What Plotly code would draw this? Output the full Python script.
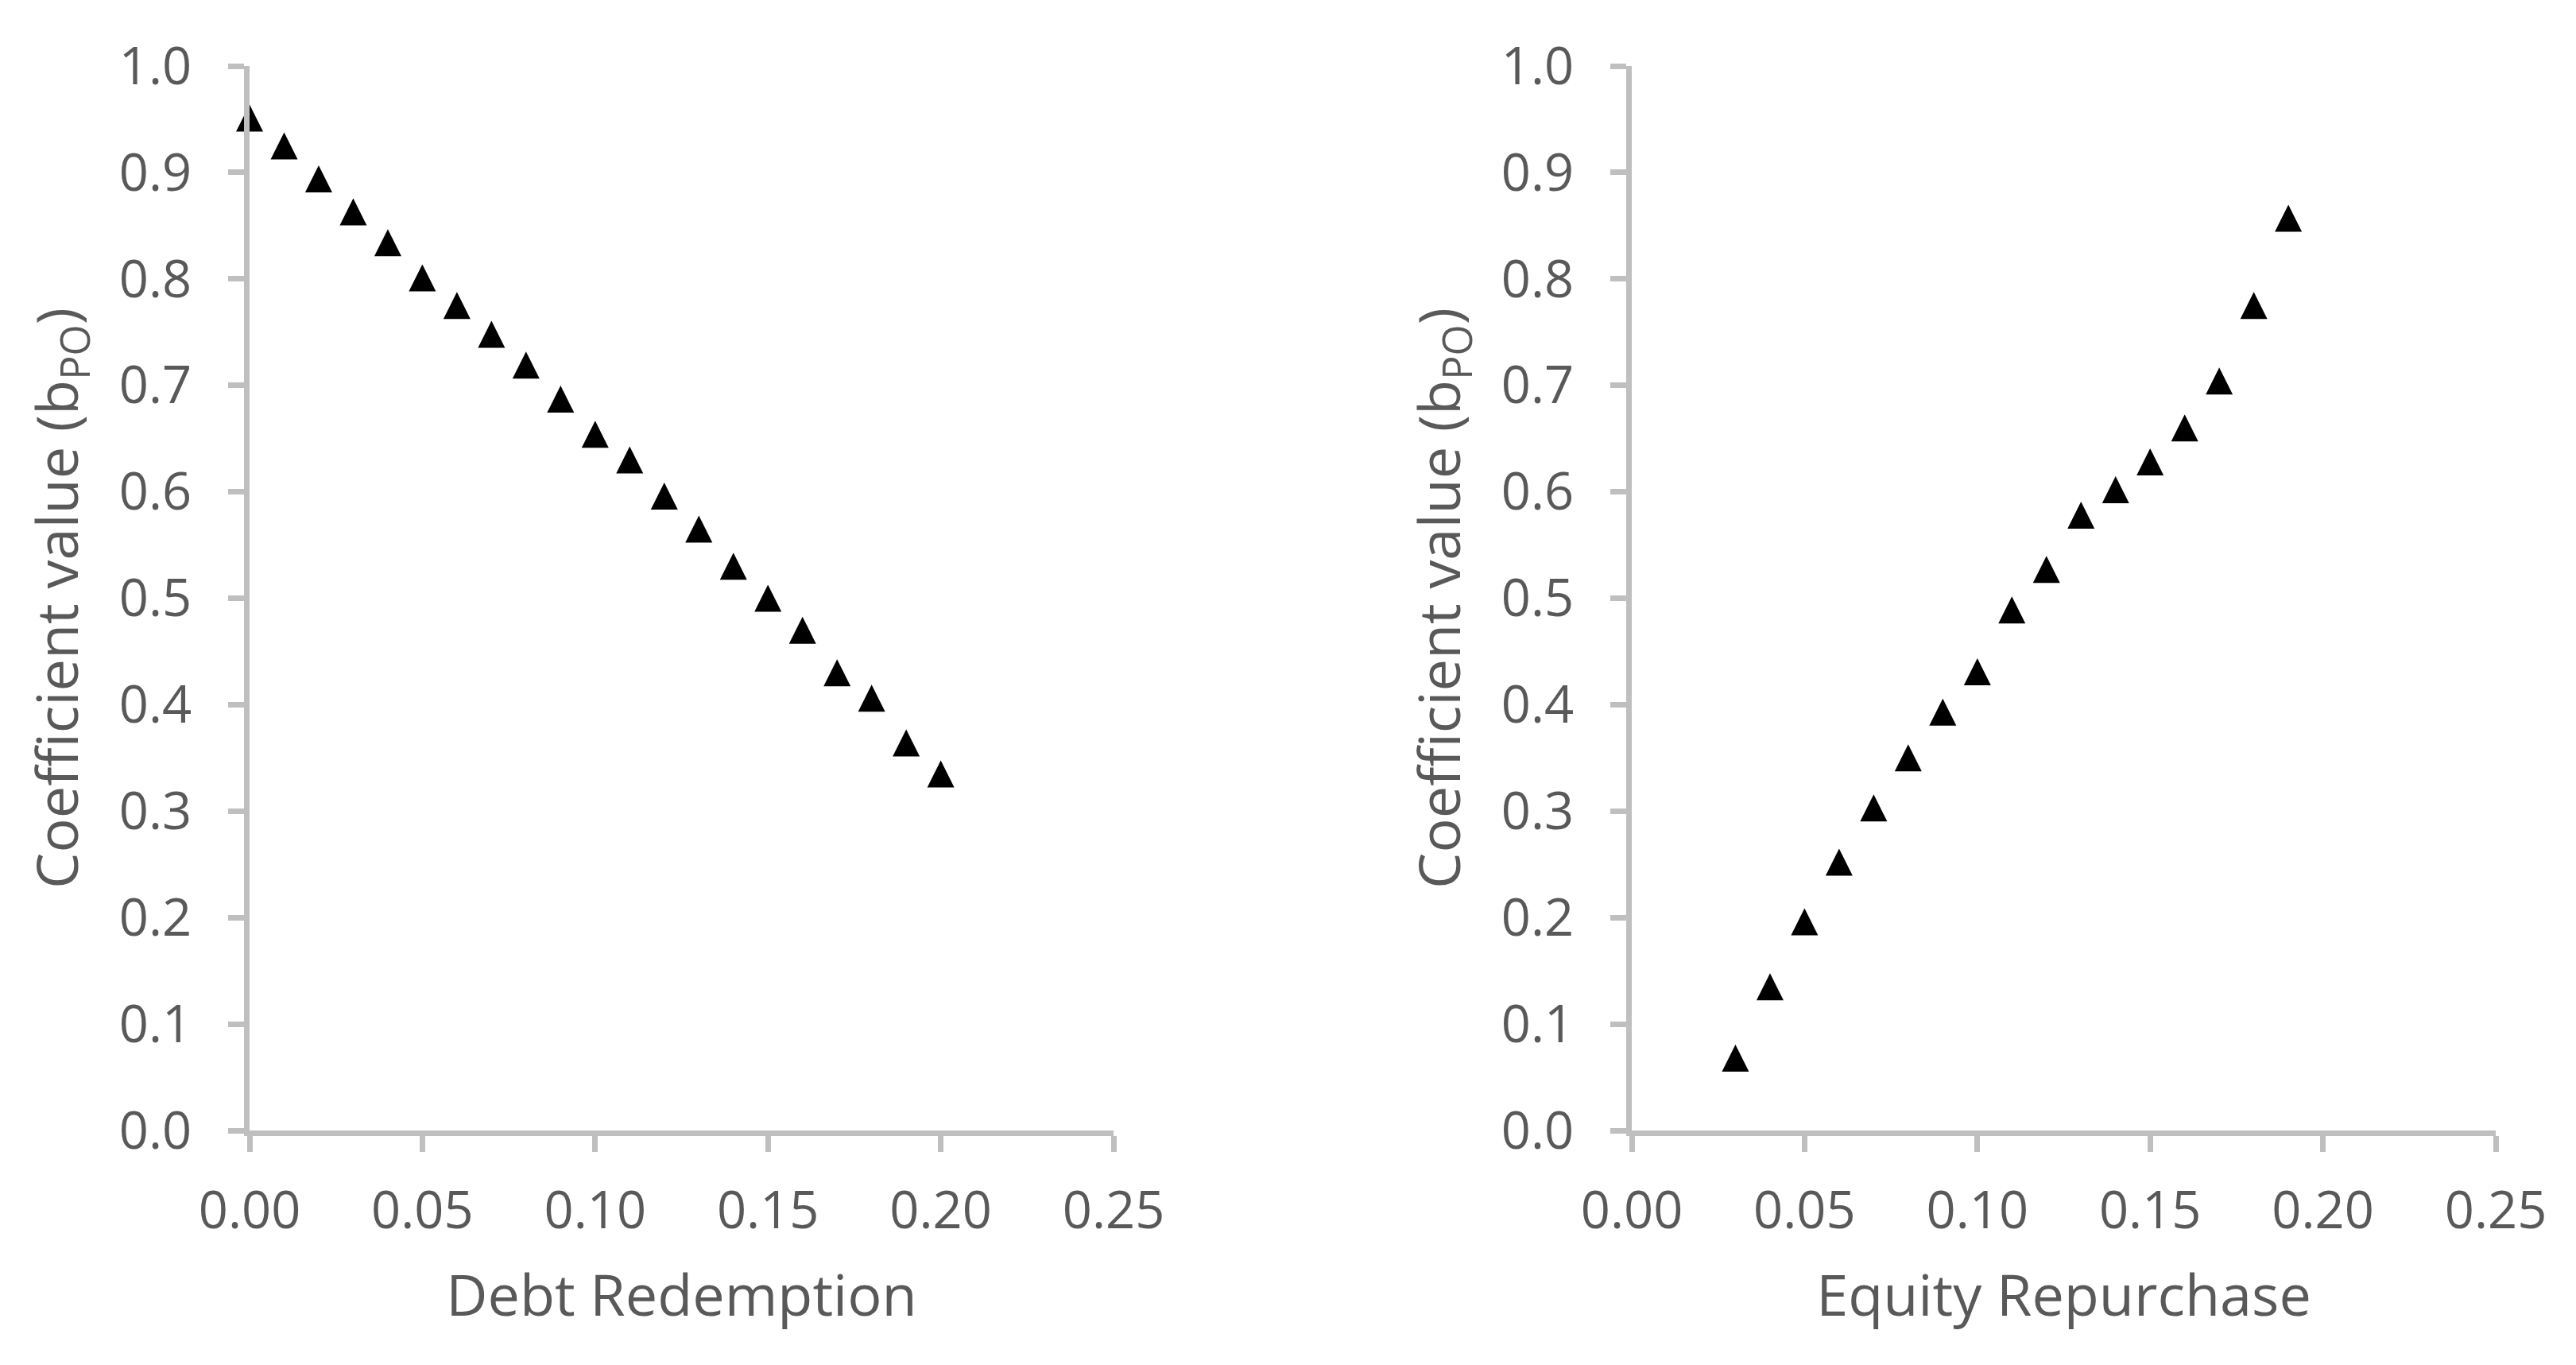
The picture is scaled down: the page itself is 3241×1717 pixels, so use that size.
import plotly.graph_objects as go

# ---- data ----
debt_x = [0.00, 0.01, 0.02, 0.03, 0.04, 0.05, 0.06, 0.07, 0.08, 0.09, 0.10,
          0.11, 0.12, 0.13, 0.14, 0.15, 0.16, 0.17, 0.18, 0.19, 0.20]
debt_y = [0.951, 0.925, 0.894, 0.863, 0.834, 0.801, 0.775, 0.748, 0.719, 0.687, 0.654,
          0.630, 0.596, 0.565, 0.530, 0.500, 0.470, 0.430, 0.406, 0.364, 0.335]

equity_x = [0.03, 0.04, 0.05, 0.06, 0.07, 0.08, 0.09, 0.10, 0.11, 0.12,
            0.13, 0.14, 0.15, 0.16, 0.17, 0.18, 0.19]
equity_y = [0.068, 0.135, 0.196, 0.252, 0.303, 0.350, 0.393, 0.431, 0.489, 0.527,
            0.578, 0.602, 0.628, 0.660, 0.704, 0.775, 0.857]

x_ticks = [0.00, 0.05, 0.10, 0.15, 0.20, 0.25]
x_labels = ["0.00", "0.05", "0.10", "0.15", "0.20", "0.25"]
y_ticks = [0.0, 0.1, 0.2, 0.3, 0.4, 0.5, 0.6, 0.7, 0.8, 0.9, 1.0]
y_labels = ["0.0", "0.1", "0.2", "0.3", "0.4", "0.5", "0.6", "0.7", "0.8", "0.9", "1.0"]

x_title_left = "Debt Redemption"
x_title_right = "Equity Repurchase"
y_title = "Coefficient value (b<sub>PO</sub>)"

# ---- style ----
W, H = 3241, 1717
OFF = 8  # page body margin
FONT = "Open Sans"
TXT = "#595959"
AX = "#BFBFBF"
MSIZE = 34

marker = dict(symbol="arrow-down", angle=180, standoff=MSIZE / 2,
              size=MSIZE, color="black", line=dict(width=0))

fig = go.Figure()
fig.add_trace(go.Scatter(x=debt_x, y=debt_y, mode="markers", marker=marker,
                         cliponaxis=False, xaxis="x", yaxis="y", showlegend=False))
fig.add_trace(go.Scatter(x=equity_x, y=equity_y, mode="markers", marker=marker,
                         cliponaxis=False, xaxis="x2", yaxis="y2", showlegend=False))

ydom = [(H - (1422 - OFF)) / H, (H - (83 - OFF)) / H]
xdom1 = [(314 - OFF) / W, (1401 - OFF) / W]
xdom2 = [(2053 - OFF) / W, (3140 - OFF) / W]

def xaxis(dom, anchor, title):
    return dict(domain=dom, anchor=anchor, range=[0, 0.25], automargin=False,
                tickmode="array", tickvals=x_ticks, ticktext=x_labels,
                showline=True, linecolor=AX, linewidth=6.5,
                ticks="outside", ticklen=20, tickwidth=6.5, tickcolor=AX,
                showgrid=False, zeroline=False,
                tickfont=dict(family=FONT, size=65, color=TXT),
                ticklabelstandoff=18,
                title=dict(text=title, standoff=44,
                           font=dict(family=FONT, size=72, color=TXT)))

def yaxis(anchor):
    return dict(domain=ydom, anchor=anchor, range=[0, 1], automargin=False,
                tickmode="array", tickvals=y_ticks, ticktext=y_labels,
                showline=True, linecolor=AX, linewidth=6.5,
                ticks="outside", ticklen=20, tickwidth=6.5, tickcolor=AX,
                showgrid=False, zeroline=False,
                tickfont=dict(family=FONT, size=65, color=TXT),
                ticklabelstandoff=33,
                title=dict(text=y_title, standoff=30,
                           font=dict(family=FONT, size=72, color=TXT)))

fig.update_layout(
    width=W, height=H,
    margin=dict(l=0, r=0, t=0, b=0),
    paper_bgcolor="white", plot_bgcolor="white",
    xaxis=xaxis(xdom1, "y", x_title_left),
    yaxis=yaxis("x"),
    xaxis2=xaxis(xdom2, "y2", x_title_right),
    yaxis2=yaxis("x2"),
)

fig.write_html("out.html")
